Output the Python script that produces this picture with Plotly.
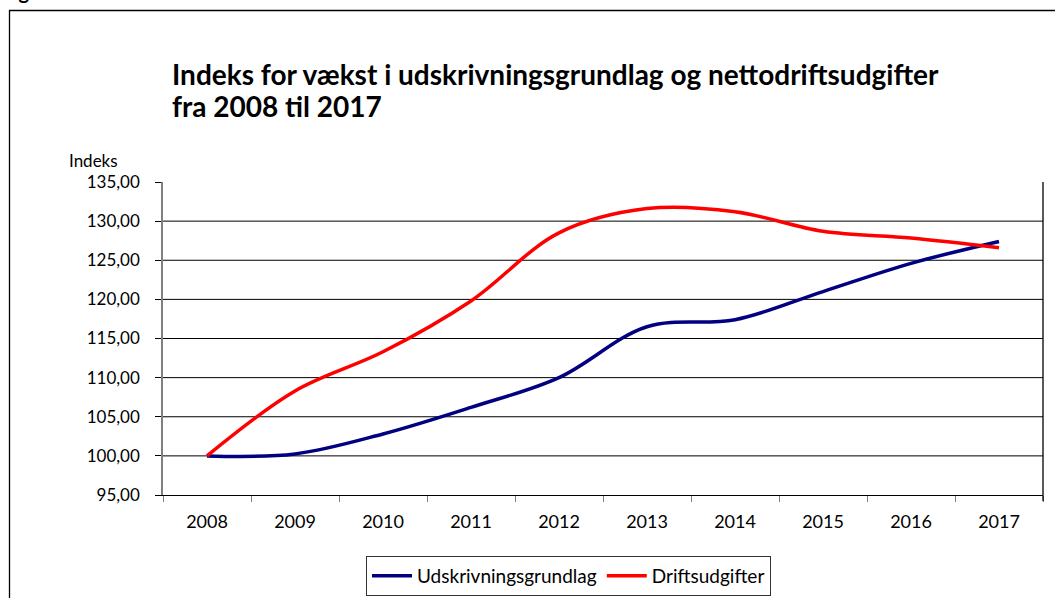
import plotly.graph_objects as go

years = ["2008", "2009", "2010", "2011", "2012", "2013", "2014", "2015", "2016", "2017"]
udskrivningsgrundlag = [100.0, 100.25, 102.8, 106.2, 110.0, 116.5, 117.4, 121.0, 124.6, 127.4]
driftsudgifter = [100.0, 108.3, 113.3, 119.8, 128.5, 131.6, 131.2, 128.7, 127.85, 126.6]
y_ticks = [95, 100, 105, 110, 115, 120, 125, 130, 135]
grid_levels = [100, 105, 110, 115, 120, 125, 130]

FONT = "Lato"

fig = go.Figure()
fig.add_trace(go.Scatter(
    x=years, y=udskrivningsgrundlag, name="Udskrivningsgrundlag",
    mode="lines", line=dict(color="#000080", width=3.5, shape="spline", smoothing=1.0),
))
fig.add_trace(go.Scatter(
    x=years, y=driftsudgifter, name="Driftsudgifter",
    mode="lines", line=dict(color="#FF0000", width=3.5, shape="spline", smoothing=1.0),
))

L, R, T, B = 163, 12, 182, 103
W, H = 1055, 598
pw = W - L - R
ph = H - T - B

def px_x(x):
    return (x - L) / pw

def px_y(y):
    return (H - B - y) / ph

shapes = []
for g in grid_levels:
    shapes.append(dict(type="line", xref="paper", yref="y", x0=0, x1=1, y0=g, y1=g,
                       line=dict(color="black", width=1), layer="below"))
# right border of plot area
shapes.append(dict(type="line", xref="paper", yref="paper", x0=1, x1=1,
                   y0=px_y(501), y1=1, line=dict(color="black", width=1.3)))
# outer frame
shapes.append(dict(type="rect", xref="paper", yref="paper",
                   x0=px_x(9.5), x1=px_x(1070), y0=px_y(620), y1=px_y(10.5),
                   line=dict(color="black", width=1.3), fillcolor="rgba(0,0,0,0)"))

annotations = [
    dict(text="<b>Indeks for vækst i udskrivningsgrundlag og nettodriftsudgifter</b>",
         xref="paper", yref="paper", x=px_x(170), y=px_y(74), xanchor="left", yanchor="middle",
         align="left", showarrow=False, font=dict(family=FONT, size=28, color="black")),
    dict(text="<b>fra 2008 til 2017</b>",
         xref="paper", yref="paper", x=px_x(170), y=px_y(106), xanchor="left", yanchor="middle",
         align="left", showarrow=False, font=dict(family=FONT, size=28, color="black")),
    dict(text="Indeks", xref="paper", yref="paper", x=px_x(67), y=px_y(160),
         xanchor="left", yanchor="middle", showarrow=False,
         font=dict(family=FONT, size=17, color="black")),
    dict(text="<b>Figur 6</b>", xref="paper", yref="paper", x=px_x(0), y=px_y(5),
         xanchor="left", yanchor="bottom", showarrow=False,
         font=dict(family=FONT, size=20, color="black")),
]

fig.update_layout(
    width=W, height=H,
    margin=dict(l=L, r=R, t=T, b=B, autoexpand=False),
    paper_bgcolor="white", plot_bgcolor="white",
    separators=", ",
    font=dict(family=FONT, size=18, color="black"),
    showlegend=True,
    legend=dict(orientation="h", x=px_x(366), y=px_y(556), xanchor="left", yanchor="top",
                bordercolor="#333333", borderwidth=1, bgcolor="white",
                font=dict(family=FONT, size=19, color="black"),
                itemwidth=40, tracegroupgap=0),
    shapes=shapes,
    annotations=annotations,
    xaxis=dict(type="category", range=[-0.5, 9.5], tickson="boundaries",
               showgrid=False, showline=True, linecolor="black", linewidth=1.3,
               ticks="outside", ticklen=6, tickcolor="#808080", tickwidth=1,
               ticklabelstandoff=10,
               tickfont=dict(family=FONT, size=18, color="black"), fixedrange=True),
    yaxis=dict(range=[95, 135], tickvals=y_ticks, tickformat=".2f",
               showgrid=False, zeroline=False, showline=True, linecolor="#808080", linewidth=1.5,
               ticks="outside", ticklen=6, tickcolor="black", tickwidth=1,
               ticklabelstandoff=12,
               tickfont=dict(family=FONT, size=17, color="black"), fixedrange=True),
)

fig.write_html("out.html", config={"displayModeBar": False},
               post_script="document.body.style.margin='0';document.body.style.overflow='hidden';")
